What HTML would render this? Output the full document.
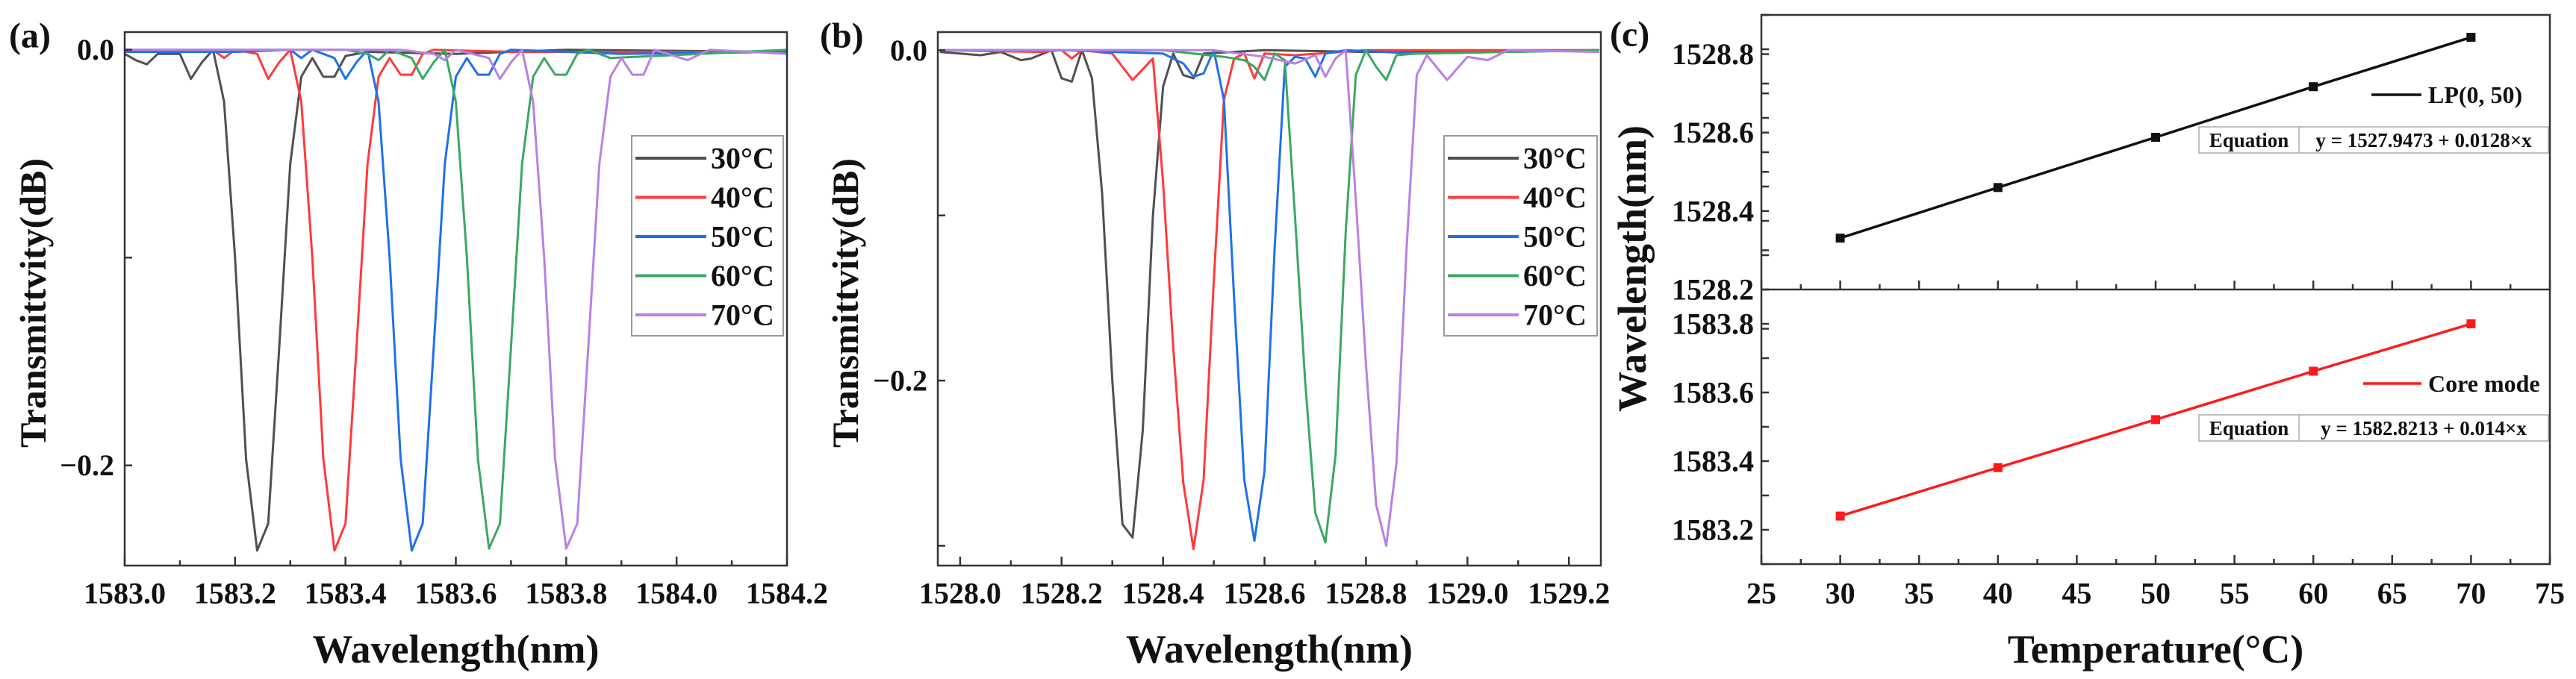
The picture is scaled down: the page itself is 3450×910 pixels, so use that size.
<!DOCTYPE html>
<html><head><meta charset="utf-8"><style>
html,body{margin:0;padding:0;background:#fff;}
svg{display:block;font-family:"Liberation Serif",serif;font-weight:bold;}
</style></head><body>
<svg id="fig" width="3450" height="910" viewBox="0 0 3450 910" xmlns="http://www.w3.org/2000/svg"></svg>
<script>
// ---------- Panel (a) data ----------
const aLabels = ["30°C","40°C","50°C","60°C","70°C"];
const aX30 = [1583.00,1583.02,1583.04,1583.06,1583.10,1583.12,1583.14,1583.16,1583.18,1583.20,1583.22,1583.24,1583.26,1583.28,1583.30,1583.32,1583.34,1583.36,1583.38,1583.40,1583.44,1583.60,1583.80,1584.20];
const aY30 = [-0.002,-0.005,-0.007,-0.002,-0.002,-0.014,-0.006,0,-0.025,-0.10,-0.197,-0.241,-0.228,-0.143,-0.055,-0.013,-0.004,-0.013,-0.013,-0.003,-0.001,-0.002,0,-0.001];
const aX40 = [1583.00,1583.14,1583.16,1583.18,1583.20,1583.24,1583.26,1583.28,1583.30,1583.32,1583.34,1583.36,1583.38,1583.40,1583.42,1583.44,1583.46,1583.48,1583.50,1583.52,1583.54,1583.56,1583.70,1584.20];
const aY40 = [0,-0.001,0,-0.004,0,-0.002,-0.014,-0.006,0,-0.025,-0.10,-0.197,-0.241,-0.228,-0.143,-0.055,-0.013,-0.004,-0.012,-0.012,-0.002,0,-0.001,-0.001];
const aX50 = [1583.00,1583.20,1583.30,1583.32,1583.34,1583.38,1583.40,1583.42,1583.44,1583.46,1583.48,1583.50,1583.52,1583.54,1583.56,1583.58,1583.60,1583.62,1583.64,1583.66,1583.68,1583.70,1583.90,1584.20];
const aY50 = [-0.001,-0.001,0,-0.004,0,-0.004,-0.014,-0.006,0,-0.025,-0.10,-0.197,-0.241,-0.228,-0.143,-0.055,-0.013,-0.004,-0.012,-0.012,-0.002,0,-0.002,-0.001];
const aX60 = [1583.00,1583.40,1583.44,1583.46,1583.48,1583.52,1583.54,1583.56,1583.58,1583.60,1583.62,1583.64,1583.66,1583.68,1583.70,1583.72,1583.74,1583.76,1583.78,1583.80,1583.82,1583.84,1583.88,1584.20];
const aY60 = [0,0,-0.002,-0.005,0,-0.004,-0.014,-0.006,0,-0.025,-0.10,-0.197,-0.240,-0.228,-0.143,-0.055,-0.013,-0.004,-0.012,-0.012,-0.002,0,-0.004,0];
const aX70 = [1583.00,1583.50,1583.56,1583.58,1583.60,1583.66,1583.68,1583.70,1583.72,1583.74,1583.76,1583.78,1583.80,1583.82,1583.84,1583.86,1583.88,1583.90,1583.92,1583.94,1583.96,1584.02,1584.06,1584.20];
const aY70 = [0,0,-0.002,-0.005,0,-0.004,-0.014,-0.006,0,-0.025,-0.10,-0.197,-0.240,-0.228,-0.143,-0.055,-0.013,-0.004,-0.012,-0.012,0,-0.005,0,-0.002];
const aXTicks = ["1583.0","1583.2","1583.4","1583.6","1583.8","1584.0","1584.2"];

// ---------- Panel (b) data ----------
const bX30 = [1527.96,1528.04,1528.08,1528.12,1528.14,1528.18,1528.20,1528.22,1528.24,1528.26,1528.28,1528.30,1528.32,1528.34,1528.36,1528.38,1528.40,1528.42,1528.44,1528.46,1528.48,1528.60,1528.80,1529.26];
const bY30 = [-0.001,-0.003,-0.001,-0.006,-0.005,0,-0.017,-0.019,0,-0.017,-0.087,-0.200,-0.287,-0.295,-0.230,-0.100,-0.022,-0.002,-0.015,-0.017,-0.002,0,-0.001,0];
const bX40 = [1527.96,1528.16,1528.20,1528.22,1528.24,1528.30,1528.34,1528.38,1528.40,1528.42,1528.44,1528.46,1528.48,1528.50,1528.52,1528.54,1528.56,1528.58,1528.60,1528.66,1528.80,1529.26];
const bY40 = [0,-0.001,0,-0.005,0,-0.002,-0.018,-0.005,-0.080,-0.180,-0.262,-0.302,-0.260,-0.140,-0.030,-0.005,-0.002,-0.017,-0.002,-0.003,0,0];
const bX50 = [1527.96,1528.20,1528.40,1528.44,1528.46,1528.48,1528.50,1528.52,1528.54,1528.56,1528.58,1528.60,1528.62,1528.64,1528.66,1528.68,1528.70,1528.72,1528.76,1528.90,1529.26];
const bY50 = [0,0,-0.002,-0.008,-0.016,-0.014,0,-0.030,-0.150,-0.260,-0.297,-0.255,-0.120,-0.010,-0.004,-0.005,-0.016,-0.002,0,-0.002,0];
const bX60 = [1527.96,1528.40,1528.52,1528.56,1528.58,1528.60,1528.62,1528.64,1528.66,1528.68,1528.70,1528.72,1528.74,1528.76,1528.78,1528.80,1528.82,1528.84,1528.86,1528.90,1529.26];
const bY60 = [0,0,-0.004,-0.006,-0.010,-0.018,-0.002,-0.006,-0.100,-0.200,-0.280,-0.298,-0.245,-0.110,-0.015,0,-0.010,-0.018,-0.003,-0.002,0];
const bX70 = [1527.96,1528.50,1528.60,1528.66,1528.70,1528.72,1528.74,1528.76,1528.78,1528.80,1528.82,1528.84,1528.86,1528.88,1528.90,1528.92,1528.96,1529.00,1529.04,1529.08,1529.26];
const bY70 = [0,0,-0.004,-0.008,-0.003,-0.016,-0.005,0,-0.090,-0.190,-0.275,-0.300,-0.250,-0.120,-0.015,-0.003,-0.018,-0.004,-0.006,0,-0.001];
const bXTicks = ["1528.0","1528.2","1528.4","1528.6","1528.8","1529.0","1529.2"];

// ---------- Panel (c) data ----------
const cTemps = [30,40,50,60,70];
const cLP = [1528.331,1528.460,1528.588,1528.717,1528.843];
const cCore = [1583.240,1583.381,1583.521,1583.662,1583.800];
const cXTicks = [25,30,35,40,45,50,55,60,65,70,75];
const cUpperTicks = ["1528.2","1528.4","1528.6","1528.8"];
const cLowerTicks = ["1583.2","1583.4","1583.6","1583.8"];

const svg = document.getElementById('fig');
const NS = "http://www.w3.org/2000/svg";
function mk(tag, attrs, parent){
  const e = document.createElementNS(NS, tag);
  for (const k in attrs) e.setAttribute(k, attrs[k]);
  (parent||svg).appendChild(e);
  return e;
}
function txt(s, x, y, size, anchor, parent, rot){
  const t = mk('text', {x:x, y:y, 'font-size':size, 'text-anchor':anchor||'middle', 'dominant-baseline':'central', fill:'#111'}, parent);
  if (rot) t.setAttribute('transform', 'rotate(-90 '+x+' '+y+')');
  t.textContent = s;
  return t;
}
function lin(d0,d1,p0,p1){ return v => p0 + (v-d0)/(d1-d0)*(p1-p0); }

const colors = ["#505050","#ff3a3a","#2070ea","#3aa862","#b880e6"];

function spectrumPanel(cfg){
  const g = mk('g', {});
  
  
  const sx = lin(cfg.x0, cfg.x1, cfg.L, cfg.R);
  const sy = lin(cfg.y0, cfg.y1, cfg.T, cfg.B);
  // series
  cfg.series.forEach((s,i)=>{
    const d = s.x.map((xv,j)=>(j?'L':'M')+sx(xv).toFixed(1)+','+sy(s.y[j]).toFixed(1)).join(' ');
    const p = mk('path', {d:d, fill:'none', stroke:colors[i], 'stroke-width':3, 'stroke-linejoin':'round'}, g);
    
    
  });
  // frame
  const fr = mk('rect', {x:cfg.L, y:cfg.T, width:cfg.R-cfg.L, height:cfg.B-cfg.T, fill:'none', stroke:'#333', 'stroke-width':2.5}, g);
  
  
  // x ticks
  for (let k=0; k<=12; k++){
    const v = cfg.xt0 + k*0.1;
    if (v > cfg.x1+1e-9) break;
    const X = sx(v);
    const major = k%2===0;
    mk('line', {x1:X, x2:X, y1:cfg.B, y2:cfg.B-(major?12:7), stroke:'#333','stroke-width':2.5}, g);
  }
  cfg.xTicks.forEach(lbl=>{
    const t = txt(lbl, sx(parseFloat(lbl)), 795, 40, 'middle', g);
    
    
  });
  cfg.yTickVals.forEach(v=>{
    mk('line', {x1:cfg.L, x2:cfg.L+10, y1:sy(v), y2:sy(v), stroke:'#333','stroke-width':2.5}, g);
  });
  cfg.yLabels.forEach(v=>{
    const t = txt(v===0?'0.0':'\u2212'+Math.abs(v).toFixed(1), cfg.L-14, sy(v), 40, 'end', g);
    
    
  });
  const xt = txt('Wavelength(nm)', (cfg.L+cfg.R)/2, 870, 54, 'middle', g);
  
  
  const yt = txt('Transmittvity(dB)', cfg.ytx, 406, 50, 'middle', g, true);
  
  
  const pl = txt(cfg.tag, cfg.tagx, 48, 48, 'start', g);
  
  
  // legend
  const lg = mk('g', {}, g);
  
  
  mk('rect', {x:cfg.lx, y:182, width:cfg.lw, height:268, fill:'#fff', stroke:'#999', 'stroke-width':2}, lg);
  cfg.labels.forEach((l,i)=>{
    const y = 212 + i*52.5;
    const e = mk('g', {}, lg);
    
    
    mk('line', {x1:cfg.lx+5, x2:cfg.lx+100, y1:y, y2:y, stroke:colors[i], 'stroke-width':4}, e);
    txt(l, cfg.lx+106, y, 40, 'start', e);
  });
}

spectrumPanel({name:'panel-a', tag:'(a)', tagx:12, L:167, R:1054, T:43, B:758, x0:1583.0, x1:1584.2, y0:0.0085, y1:-0.2482,
  xt0:1583.0, xTicks:aXTicks, yTickVals:[0,-0.1,-0.2], yLabels:[0,-0.2], ytx:44, lx:846, lw:203, labels:aLabels,
  series:[{x:aX30,y:aY30},{x:aX40,y:aY40},{x:aX50,y:aY50},{x:aX60,y:aY60},{x:aX70,y:aY70}]});
spectrumPanel({name:'panel-b', tag:'(b)', tagx:1098, L:1256, R:2144, T:43, B:758, x0:1527.956, x1:1529.263, y0:0.011, y1:-0.312,
  xt0:1528.0, xTicks:bXTicks, yTickVals:[0,-0.1,-0.2,-0.3], yLabels:[0,-0.2], ytx:1132, lx:1934, lw:205, labels:aLabels,
  series:[{x:bX30,y:bY30},{x:bX40,y:bY40},{x:bX50,y:bY50},{x:bX60,y:bY60},{x:bX70,y:bY70}]});

// ---------- Panel (c) ----------
(function(){
  const g = mk('g', {});
  
  
  const L=2359, R=3415, T=20, M=388, B=756;
  const sx = lin(25, 75, L, R);
  const syU = lin(1528.2, 1528.9, M, T);
  const syL = lin(1583.1, 1583.9, B, M);
  function sub(vals, sy, col, nm, ticks, legendText, lgY, eqY, eqText){
    const d = cTemps.map((t,j)=>(j?'L':'M')+sx(t).toFixed(1)+','+sy(vals[j]).toFixed(1)).join(' ');
    const p = mk('path', {d:d, fill:'none', stroke:col, 'stroke-width':3.5}, g);
    
    
    cTemps.forEach((t,j)=>{
      const m = mk('rect', {x:sx(t)-6, y:sy(vals[j])-6, width:12, height:12, fill:col}, g);
      
      
    });
    for (let k=0;k<20;k++){
      const v = parseFloat(ticks[0]) - 0.1 + k*0.1;
      const Y = sy(v);
      if (Y < T-1 || Y > B+1) continue;
      mk('line', {x1:L, x2:L+10, y1:Y, y2:Y, stroke:'#333','stroke-width':2.5}, g);
    }
    ticks.forEach(s=>{
      const t = txt(s, L-10, sy(parseFloat(s)), 40, 'end', g);
      
      
    });
    const lg = mk('g', {}, g);
    
    
    mk('line', {x1:legendText==='LP(0, 50)'?3176:3165, x2:3243, y1:lgY, y2:lgY, stroke:col, 'stroke-width':3.5}, lg);
    txt(legendText, 3252, lgY, 32, 'start', lg);
    const eq = mk('g', {}, g);
    
    
    mk('rect', {x:2945, y:eqY, width:468, height:35, fill:'#fff', stroke:'#aaa', 'stroke-width':1.5}, eq);
    mk('line', {x1:3079, x2:3079, y1:eqY, y2:eqY+35, stroke:'#aaa', 'stroke-width':1.5}, eq);
    txt('Equation', 3012, eqY+18, 27, 'middle', eq);
    txt(eqText, 3246, eqY+18, 27, 'middle', eq);
  }
  sub(cLP, syU, '#111', 'lp050', cUpperTicks, 'LP(0, 50)', 127, 170, 'y = 1527.9473 + 0.0128\u00d7x');
  sub(cCore, syL, '#ff1a1a', 'core-mode', cLowerTicks, 'Core mode', 514, 556, 'y = 1582.8213 + 0.014\u00d7x');
  // frames
  mk('rect', {x:L, y:T, width:R-L, height:B-T, fill:'none', stroke:'#333', 'stroke-width':2.5}, g);
  mk('line', {x1:L, x2:R, y1:M, y2:M, stroke:'#333', 'stroke-width':2.5}, g);
  for (let k=0;k<=20;k++){
    const v = 25 + k*2.5, X = sx(v), major = k%2===0;
    mk('line', {x1:X, x2:X, y1:B, y2:B-(major?12:7), stroke:'#333','stroke-width':2.5}, g);
    mk('line', {x1:X, x2:X, y1:M, y2:M-(major?12:7), stroke:'#333','stroke-width':2.5}, g);
  }
  cXTicks.forEach(v=>{
    const t = txt(String(v), sx(v), 795, 40, 'middle', g);
    
    
  });
  const xt = txt('Temperature(°C)', 2887, 870, 54, 'middle', g);
  
  
  const yt = txt('Wavelength(nm)', 2186, 360, 54, 'middle', g, true);
  
  
  const pl = txt('(c)', 2156, 46, 48, 'start', g);
  
  
})();
</script>
</body></html>
